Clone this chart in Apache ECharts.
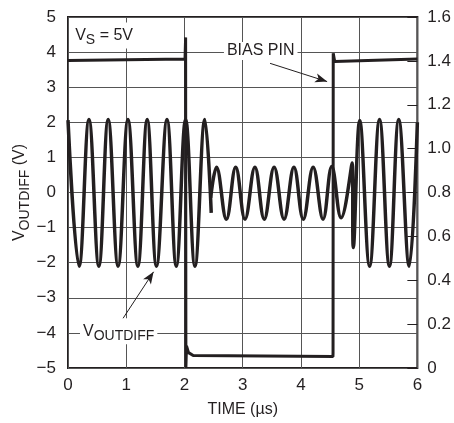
<!DOCTYPE html>
<html><head><meta charset="utf-8">
<script src="https://cdn.jsdelivr.net/npm/echarts@6/dist/echarts.min.js"></script>
<style>html,body{margin:0;padding:0;background:#fff}#c{width:454px;height:423px}</style>
</head><body><div id="c"></div>
<script>
// ---- data ----
const xTicks = [0, 1, 2, 3, 4, 5, 6];
const leftTicks = [-5, -4, -3, -2, -1, 0, 1, 2, 3, 4, 5];
const rightTicks = [0, 0.2, 0.4, 0.6, 0.8, 1.0, 1.2, 1.4, 1.6];

// V_OUTDIFF (V), first burst (time µs, volts)
const voutBurst1 = [
  [0, 2.06], [0.19, -2.1], [0.36, 2.08], [0.53, -2.1], [0.69, 2.08], [0.86, -2.1],
  [1.03, 2.08], [1.2, -2.1], [1.36, 2.08], [1.52, -2.1], [1.7, 2.08], [1.86, -2.1],
  [2.02, 2.08], [2.18, -2.1], [2.35, 2.08], [2.46, -0.58]
];
// V_OUTDIFF (V), reduced section and recovery
const voutBurst2 = [
  [2.45, -0.15], [2.55, 0.72], [2.72, -0.76], [2.88, 0.72], [3.04, -0.76], [3.21, 0.72],
  [3.37, -0.76], [3.54, 0.72], [3.71, -0.76], [3.88, 0.72], [4.04, -0.76], [4.21, 0.72],
  [4.38, -0.76], [4.53, 0.74], [4.69, -0.72], [4.88, 0.84], [4.9, -1.57], [5.01, 2.05],
  [5.18, -2.1], [5.35, 2.08], [5.52, -2.1], [5.68, 2.08], [5.86, -2.1], [6.0, 2.0]
];
// BIAS PIN (V), right axis
const biasPin = [
  [0, 1.402], [2.01, 1.409], [2.02, 1.507], [2.025, 0.005], [2.035, 0.10], [2.07, 0.07],
  [2.15, 0.057], [4.55, 0.052], [4.552, 0.07], [4.555, 1.435], [4.58, 1.397], [6, 1.408]
];

// ---- annotation anchors (data coordinates, left axis) ----
const vsLabelAt = [0.62, 4.47];
const biasLabelAt = [3.31, 4.03];
const voutLabelAt = [0.87, -3.95];
const biasArrow = [[3.47, 3.68], [4.45, 3.16]];
const voutArrow = [[0.90, -3.70], [1.47, -2.26]];

const F = '"Liberation Sans", Arial, sans-serif';
const INK = '#231f20';
const GRIDC = '#555';

const chart = echarts.init(document.getElementById('c'), null, {renderer: 'canvas'});

const labelBox = {
  show: true, position: 'inside', color: INK, fontFamily: F, fontSize: 16,
  backgroundColor: '#fff', padding: [1, 3, 1, 3]
};
const sub = {fontFamily: F, fontSize: 14, color: INK, padding: [10, 0, 0, 0]};
const main = {fontFamily: F, fontSize: 16, color: INK};

chart.setOption({
  animation: false,
  backgroundColor: '#fff',
  grid: {left: 68, top: 17, right: 34, bottom: 54, show: true, borderColor: INK, borderWidth: 2, backgroundColor: 'transparent'},
  xAxis: {
    type: 'value', min: xTicks[0], max: xTicks[xTicks.length - 1], interval: 1,
    name: 'TIME (µs)', nameLocation: 'middle', nameGap: 34, nameMoveOverlap: false,
    nameTextStyle: {fontFamily: F, fontSize: 16, color: INK},
    axisLine: {show: false}, axisTick: {show: false},
    axisLabel: {fontFamily: F, fontSize: 17, color: INK, margin: 9, formatter: v => String(v)},
    splitLine: {show: true, lineStyle: {color: GRIDC, width: 1}}
  },
  yAxis: [{
    type: 'value', min: leftTicks[0], max: leftTicks[leftTicks.length - 1], interval: 1,
    name: '{v|V}{s|OUTDIFF}{t| (V)}', nameLocation: 'middle', nameGap: 36, nameMoveOverlap: false,
    nameTextStyle: {rich: {v: main, s: sub, t: main}},
    axisLine: {show: false}, axisTick: {show: false},
    axisLabel: {fontFamily: F, fontSize: 17, color: INK, margin: 12,
      formatter: v => (v < 0 ? '\u2212' + Math.abs(v) : String(v))},
    splitLine: {show: true, lineStyle: {color: GRIDC, width: 1}}
  }, {
    type: 'value', position: 'right', min: rightTicks[0], max: rightTicks[rightTicks.length - 1], interval: 0.2,
    axisLine: {show: false},
    axisTick: {show: true, inside: true, length: 10, lineStyle: {color: INK, width: 1}},
    axisLabel: {fontFamily: F, fontSize: 17, color: INK, margin: 10,
      formatter: v => (Math.abs(v) < 1e-9 ? '0' : v.toFixed(1))},
    splitLine: {show: false}
  }],
  series: [{
    name: 'VOUTDIFF', type: 'line', yAxisIndex: 0, data: voutBurst1, smooth: 0.4,
    symbol: 'none', lineStyle: {color: INK, width: 3.5}, z: 3,
    markPoint: {
      symbol: 'rect', symbolSize: 0, silent: true,
      data: [
        {coord: vsLabelAt, label: Object.assign({}, labelBox, {
          formatter: '{v|V}{s|S}{t| = 5V}', rich: {v: main, s: sub, t: main}})},
        {coord: biasLabelAt, label: Object.assign({}, labelBox, {formatter: 'BIAS PIN'})},
        {coord: voutLabelAt, label: Object.assign({}, labelBox, {
          formatter: '{v|V}{s|OUTDIFF}', rich: {v: main, s: sub}})}
      ]
    },
    markLine: {
      silent: true, symbol: ['none', 'arrow'], symbolSize: [7, 12],
      label: {show: false},
      lineStyle: {color: INK, width: 1, type: 'solid'},
      data: [
        [{coord: biasArrow[0]}, {coord: biasArrow[1]}],
        [{coord: voutArrow[0]}, {coord: voutArrow[1]}]
      ]
    }
  }, {
    name: 'VOUTDIFF2', type: 'line', yAxisIndex: 0, data: voutBurst2, smooth: 0.4,
    symbol: 'none', lineStyle: {color: INK, width: 3.5}, z: 3
  }, {
    name: 'BIAS PIN', type: 'line', yAxisIndex: 1, data: biasPin,
    symbol: 'none', lineStyle: {color: INK, width: 3}, z: 4
  }]
});
</script></body></html>
